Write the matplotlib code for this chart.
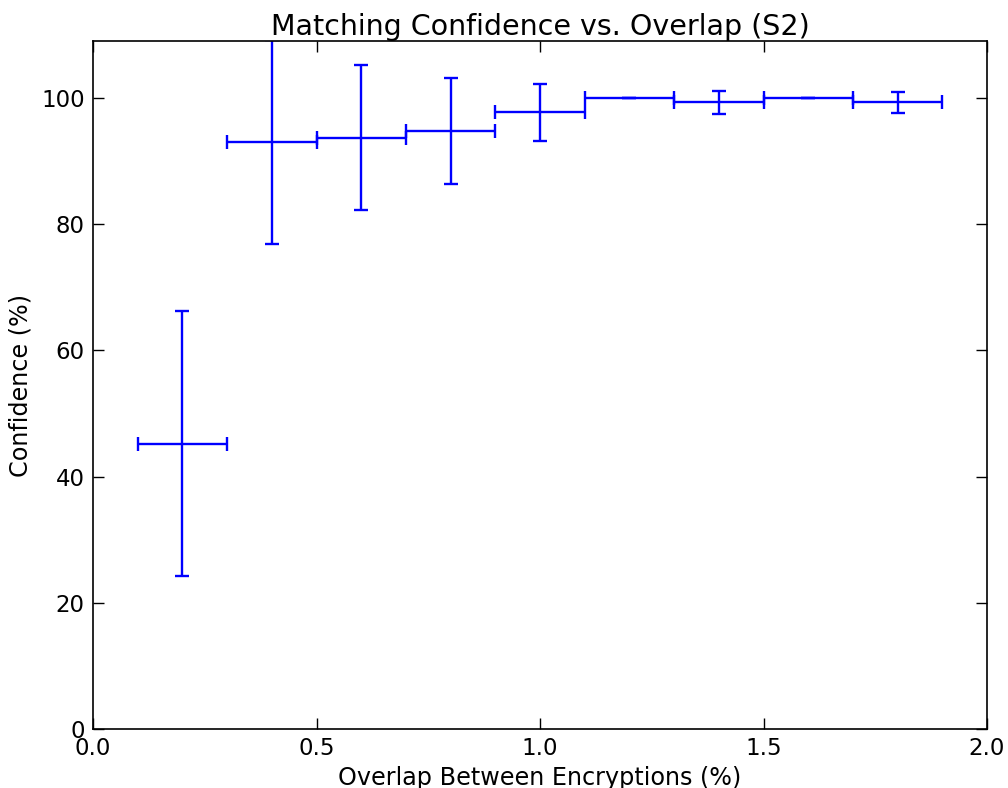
import numpy as np
import matplotlib
matplotlib.use("Agg")
import matplotlib.pyplot as plt

# overlap (%) and matching confidence (%)
overlap = [0.2, 0.4, 0.6, 0.8, 1.0, 1.2, 1.4, 1.6, 1.8]
confidence = [45.2, 93.0, 93.7, 94.8, 97.7, 100.0, 99.3, 100.0, 99.3]
conf_err = [21.0, 16.2, 11.5, 8.4, 4.5, 0.0, 1.8, 0.0, 1.65]
overlap_err = [0.1, 0.1, 0.1, 0.1, 0.1, 0.1, 0.1, 0.1, 0.1]

plt.rcParams['font.family'] = ['DejaVu Sans']

fig = plt.figure(figsize=(10.08, 7.88), dpi=100)
ax = fig.add_axes([0.0923, 0.0749, 0.8869, 0.8731])

ax.errorbar(overlap, confidence, yerr=conf_err, xerr=overlap_err,
            fmt='none', ecolor='b', elinewidth=1.7, capsize=5,
            capthick=1.7)

ax.set_xlim(0, 2.0)
ax.set_ylim(0, 109)
ax.set_xticks([0.0, 0.5, 1.0, 1.5, 2.0])
ax.set_yticks([0, 20, 40, 60, 80, 100])
ax.tick_params(direction='in', top=True, right=True, length=8, width=1,
               labelsize=16.5, pad=6)
for s in ax.spines.values():
    s.set_linewidth(1.2)

ax.set_title("Matching Confidence vs. Overlap (S2)", fontsize=20.5, pad=4)
ax.set_xlabel("Overlap Between Encryptions (%)", fontsize=17.2, labelpad=4)
ax.set_ylabel("Confidence (%)", fontsize=17.2, labelpad=6)

fig.savefig("out.png", dpi=100)
